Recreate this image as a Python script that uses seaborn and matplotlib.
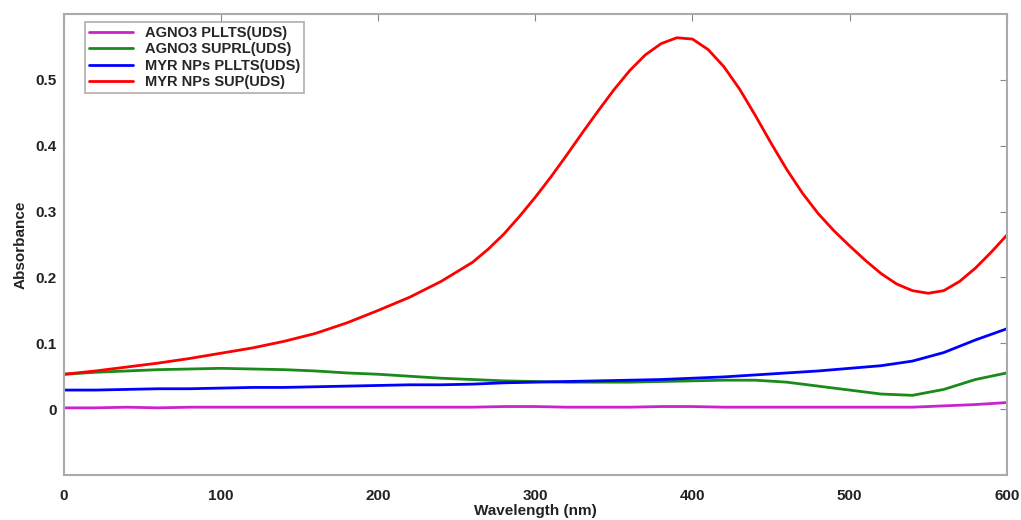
import pandas as pd
import matplotlib
matplotlib.use("Agg")
import matplotlib.pyplot as plt
import seaborn as sns

# wavelength grid (nm) and absorbance
wavelength = list(range(0, 601, 20))

agno3_pellets = [0.002, 0.002, 0.003, 0.002, 0.003, 0.003, 0.003, 0.003, 0.003, 0.003,
                 0.003, 0.003, 0.003, 0.003, 0.004, 0.004, 0.003, 0.003, 0.003, 0.004,
                 0.004, 0.003, 0.003, 0.003, 0.003, 0.003, 0.003, 0.003, 0.005, 0.007,
                 0.010]
agno3_super = [0.053, 0.056, 0.058, 0.060, 0.061, 0.062, 0.061, 0.060, 0.058, 0.055,
               0.053, 0.050, 0.047, 0.045, 0.043, 0.042, 0.041, 0.041, 0.041, 0.042,
               0.043, 0.044, 0.044, 0.041, 0.035, 0.029, 0.023, 0.021, 0.030, 0.045,
               0.055]
myr_pellets = [0.029, 0.029, 0.030, 0.031, 0.031, 0.032, 0.033, 0.033, 0.034, 0.035,
               0.036, 0.037, 0.037, 0.038, 0.040, 0.041, 0.042, 0.043, 0.044, 0.045,
               0.047, 0.049, 0.052, 0.055, 0.058, 0.062, 0.066, 0.073, 0.086, 0.105,
               0.122]

# the red curve needs a finer grid around the peak
wavelength_sup = [0, 20, 40, 60, 80, 100, 120, 140, 160, 180, 200, 220, 240, 260,
                  270, 280, 290, 300, 310, 320, 330, 340, 350, 360, 370, 380, 390,
                  400, 410, 420, 430, 440, 450, 460, 470, 480, 490, 500, 510, 520,
                  530, 540, 550, 560, 570, 580, 590, 600]
myr_super = [0.053, 0.058, 0.064, 0.070, 0.077, 0.085, 0.093, 0.103, 0.115, 0.131,
             0.150, 0.170, 0.194, 0.223, 0.243, 0.266, 0.293, 0.322, 0.353, 0.386,
             0.420, 0.453, 0.485, 0.514, 0.538, 0.555, 0.564, 0.562, 0.546, 0.520,
             0.486, 0.446, 0.404, 0.364, 0.328, 0.297, 0.271, 0.248, 0.226, 0.206,
             0.190, 0.180, 0.176, 0.180, 0.194, 0.214, 0.238, 0.264]

labels = ["AGNO3 PLLTS(UDS)", "AGNO3 SUPRL(UDS)", "MYR NPs PLLTS(UDS)", "MYR NPs SUP(UDS)"]
colors = ["#cc22cc", "#1a8a1a", "#0000ff", "#ff0000"]

series = [(wavelength, agno3_pellets), (wavelength, agno3_super),
          (wavelength, myr_pellets), (wavelength_sup, myr_super)]
rows = []
for lab, (xs, vals) in zip(labels, series):
    for w, a in zip(xs, vals):
        rows.append({"wavelength": w, "absorbance": a, "sample": lab})
df = pd.DataFrame(rows)

sns.set_style("white")
plt.rcParams["font.family"] = ["Liberation Sans", "DejaVu Sans"]
plt.rcParams["font.weight"] = "bold"

fig = plt.figure(figsize=(10.21, 5.2), dpi=100)
ax = fig.add_axes([0.0627, 0.0865, 0.9233, 0.8865])

sns.lineplot(data=df, x="wavelength", y="absorbance", hue="sample",
             palette=dict(zip(labels, colors)), hue_order=labels,
             linewidth=2, ax=ax)

ax.set_xlim(0, 600)
ax.set_ylim(-0.1, 0.6)
ax.set_xticks([0, 100, 200, 300, 400, 500, 600])
ax.set_yticks([0, 0.1, 0.2, 0.3, 0.4, 0.5])
ax.set_yticklabels(["0", "0.1", "0.2", "0.3", "0.4", "0.5"])
ax.set_xlabel("Wavelength (nm)", fontsize=11, fontweight="bold", color="#222222",
              labelpad=1)
ax.set_ylabel("Absorbance", fontsize=11, fontweight="bold", color="#222222",
              labelpad=6)

for s in ax.spines.values():
    s.set_color("#aaaaaa")
    s.set_linewidth(1.5)
ax.tick_params(direction="in", length=5, color="#888888", top=True, right=True,
               labelsize=11, labelcolor="#222222")
ax.tick_params(axis="x", pad=10)
ax.tick_params(axis="y", pad=5)

leg = ax.legend(loc="upper left", bbox_to_anchor=(0.022, 0.983), borderaxespad=0,
                fontsize=10.5, frameon=True, fancybox=False, handlelength=3,
                borderpad=0.3, labelspacing=0.15)
leg.get_frame().set_edgecolor("#999999")
leg.get_frame().set_linewidth(1.2)
for t in leg.get_texts():
    t.set_fontweight("bold")

fig.savefig("out.png", dpi=100)
